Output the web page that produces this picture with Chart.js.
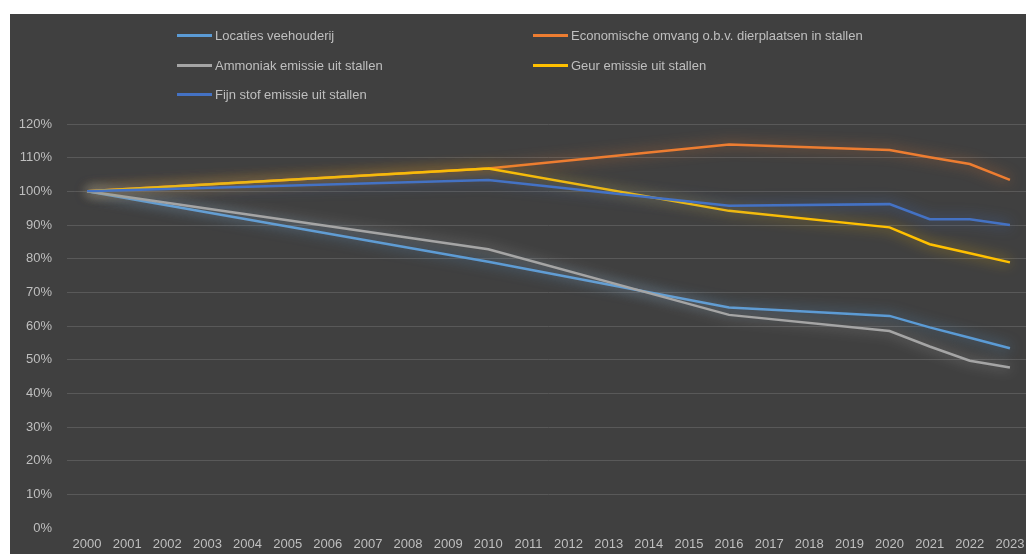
<!DOCTYPE html>
<html>
<head>
<meta charset="utf-8">
<script src="https://cdn.jsdelivr.net/npm/chart.js@4"></script>
<style>
  html, body { margin: 0; padding: 0; background: #ffffff; overflow: hidden; }
  #wrap { position: absolute; left: 10px; top: 14px; width: 1026px; height: 540px; background: #404040; }
  #legend { position: absolute; left: 0; top: 0; width: 1026px; height: 100px;
            font-family: "Liberation Sans", Arial, sans-serif; font-size: 13px; color: #bfbfbf; }
  .item { position: absolute; height: 16px; line-height: 16px; white-space: nowrap; }
  .item span.sw { display: inline-block; width: 35px; height: 3px; vertical-align: middle; margin-right: 3px; position: relative; top: -1px; }
</style>
</head>
<body>
<div id="wrap">
  <canvas id="grafiek" width="1026" height="540"></canvas>
  <div id="legend"></div>
</div>
<script>
//data
const jaren = ['2000','2001','2002','2003','2004','2005','2006','2007','2008','2009','2010','2011',
               '2012','2013','2014','2015','2016','2017','2018','2019','2020','2021','2022','2023'];
const locaties     = [100, null,null,null,null,null,null,null,null,null, 79.1, null,null,null,null,null, 65.5, null,null,null, 63.0, 59.6, 56.5, 53.4];
const economisch   = [100, null,null,null,null,null,null,null,null,null,106.8, null,null,null,null,null,113.9, null,null,null,112.3,110.1,108.1,103.4];
const ammoniak     = [100, null,null,null,null,null,null,null,null,null, 82.8, null,null,null,null,null, 63.3, null,null,null, 58.5, 53.9, 49.7, 47.7];
const geur         = [100, null,null,null,null,null,null,null,null,null,106.8, null,null,null,null,null, 94.2, null,null,null, 89.3, 84.3, 81.6, 78.9];
const fijnstof     = [100, null,null,null,null,null,null,null,null,null,103.4, null,null,null,null,null, 95.7, null,null,null, 96.2, 91.7, 91.7, 90.0];

const reeksen = [
  { label: 'Locaties veehouderij', data: locaties, kleur: '#5B9BD5', glow: 'rgba(91,155,213,0.8)' },
  { label: 'Economische omvang o.b.v. dierplaatsen in stallen', data: economisch, kleur: '#ED7D31', glow: 'rgba(237,125,49,0.75)' },
  { label: 'Ammoniak emissie uit stallen', data: ammoniak, kleur: '#A5A5A5', glow: 'rgba(200,200,200,0.65)' },
  { label: 'Geur emissie uit stallen', data: geur, kleur: '#FFC000', glow: 'rgba(255,192,0,0.75)' },
  { label: 'Fijn stof emissie uit stallen', data: fijnstof, kleur: '#4472C4', glow: 'rgba(68,114,196,0.8)' },
];

// legenda posities (2 kolommen, zoals Excel)
const legendaPos = [[167, 14], [523, 14], [167, 44], [523, 44], [167, 73]];

const gloed = {
  id: 'gloed',
  beforeDatasetDraw(chart, args) {
    const ds = chart.data.datasets[args.index];
    chart.ctx.save();
    chart.ctx.shadowColor = ds.glow;
    chart.ctx.shadowBlur = 13;
  },
  afterDatasetDraw(chart) {
    chart.ctx.restore();
  }
};

const ctx = document.getElementById('grafiek').getContext('2d');
const grafiek = new Chart(ctx, {
  type: 'line',
  data: {
    labels: jaren,
    datasets: reeksen.map((r, i) => ({
      label: r.label,
      data: r.data,
      borderColor: r.kleur,
      backgroundColor: r.kleur,
      glow: r.glow,
      borderWidth: 2.5,
      pointRadius: 0,
      spanGaps: true,
      tension: 0,
      fill: false,
      order: reeksen.length - 1 - i,
    })),
  },
  options: {
    responsive: false,
    animation: false,
    events: [],
    layout: { padding: { top: 110, left: 0, right: 6, bottom: 0 } },
    plugins: { legend: { display: false }, tooltip: { enabled: false } },
    scales: {
      x: {
        offset: true,
        grid: { display: false },
        border: { display: false },
        ticks: { color: '#bfbfbf', font: { family: 'Liberation Sans', size: 13 }, padding: 1, maxRotation: 0, autoSkip: false },
        afterFit: s => { s.height = 26; },
      },
      y: {
        min: 0, max: 120,
        border: { display: false },
        grid: { drawTicks: false, color: c => c.tick.value === 0 ? 'rgba(0,0,0,0)' : '#595959', lineWidth: 1 },
        ticks: { stepSize: 10, color: '#bfbfbf', font: { family: 'Liberation Sans', size: 13 }, padding: 15, callback: v => v + '%' },
        afterFit: s => { s.width = 57; },
      },
    },
  },
  plugins: [gloed],
});

// HTML legenda
const legenda = document.getElementById('legend');
reeksen.forEach((r, i) => {
  const el = document.createElement('div');
  el.className = 'item';
  el.style.left = legendaPos[i][0] + 'px';
  el.style.top = legendaPos[i][1] + 'px';
  el.innerHTML = '<span class="sw" style="background:' + r.kleur + '"></span>' + r.label;
  legenda.appendChild(el);
});
</script>
</body>
</html>
